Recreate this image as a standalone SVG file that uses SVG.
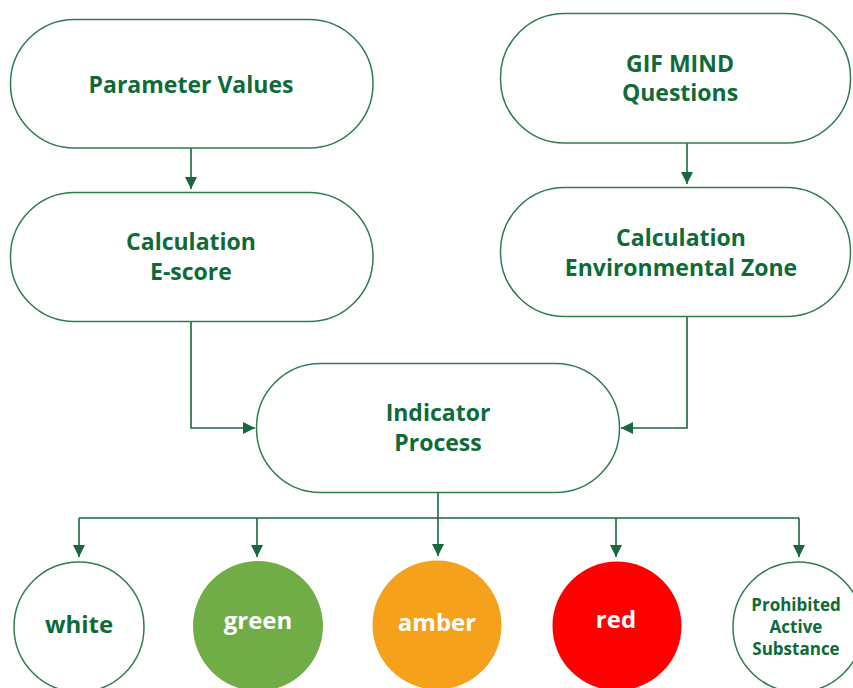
<svg xmlns="http://www.w3.org/2000/svg" width="853" height="688" viewBox="0 0 853 688">
  <defs>
    <marker id="arr" markerUnits="userSpaceOnUse" markerWidth="12" markerHeight="14" refX="12" refY="6" orient="auto">
      <path d="M0,0 L12,6 L0,12 Z" fill="#16693a"/>
    </marker>
    <style>
      .box { fill: #ffffff; stroke: #2e7d4e; stroke-width: 1.5; }
      .conn { fill: none; stroke: #16693a; stroke-width: 1.6; }
      .t { font-family: "Open Sans", "Noto Sans", "Liberation Sans", sans-serif; font-weight: 700; font-size: 23px; fill: #0e6b38; text-anchor: middle; }
      .tc { font-size: 24px; }
      .tw { fill: #ffffff; }
      .ts { font-size: 17px; }
    </style>
  </defs>
  <rect width="853" height="688" fill="#ffffff"/>

  <g id="connectors">
    <path class="conn" d="M191,148 L191,189" marker-end="url(#arr)"/>
    <path class="conn" d="M687,143 L687,184" marker-end="url(#arr)"/>
    <path class="conn" d="M191,322 L191,428 L255,428" marker-end="url(#arr)"/>
    <path class="conn" d="M687,316 L687,428 L621,428" marker-end="url(#arr)"/>
    <path class="conn" d="M438,493 L438,556" marker-end="url(#arr)"/>
    <path class="conn" d="M79,518 L799,518"/>
    <path class="conn" d="M79,518 L79,557" marker-end="url(#arr)"/>
    <path class="conn" d="M257,518 L257,557" marker-end="url(#arr)"/>
    <path class="conn" d="M616,518 L616,557" marker-end="url(#arr)"/>
    <path class="conn" d="M799,518 L799,557" marker-end="url(#arr)"/>
  </g>

  <g id="parameter-values">
    <rect class="box" x="10.5" y="19.5" width="362.5" height="128.5" rx="64" ry="64"/>
    <text class="t" x="191" y="93">Parameter Values</text>
  </g>
  <g id="calc-escore">
    <rect class="box" x="10.5" y="192.5" width="362.5" height="129" rx="64" ry="64"/>
    <text class="t" x="191" y="250">Calculation</text>
    <text class="t" x="191" y="280">E-score</text>
  </g>
  <g id="gif-mind">
    <rect class="box" x="500.5" y="13.5" width="350" height="129.5" rx="64" ry="64"/>
    <text class="t" x="680" y="72">GIF MIND</text>
    <text class="t" x="680" y="101">Questions</text>
  </g>
  <g id="calc-env-zone">
    <rect class="box" x="500.5" y="187.5" width="350" height="129" rx="64" ry="64"/>
    <text class="t" x="681" y="246">Calculation</text>
    <text class="t" x="681" y="276">Environmental Zone</text>
  </g>
  <g id="indicator-process">
    <rect class="box" x="256.5" y="363.5" width="363" height="129" rx="64" ry="64"/>
    <text class="t" x="438" y="421">Indicator</text>
    <text class="t" x="438" y="451">Process</text>
  </g>

  <g id="white">
    <circle class="box" cx="79" cy="627" r="65"/>
    <text class="t tc" x="79" y="633">white</text>
  </g>
  <g id="green">
    <circle cx="258" cy="626" r="65" fill="#70ad47"/>
    <text class="t tc tw" x="258" y="629">green</text>
  </g>
  <g id="amber">
    <circle cx="437" cy="625" r="64.5" fill="#f5a11c"/>
    <text class="t tc tw" x="437" y="631">amber</text>
  </g>
  <g id="red">
    <circle cx="617" cy="626" r="64.5" fill="#ff0000"/>
    <text class="t tc tw" x="616" y="628">red</text>
  </g>
  <g id="prohibited">
    <circle class="box" cx="798" cy="627" r="65"/>
    <text class="t ts" x="796" y="611">Prohibited</text>
    <text class="t ts" x="796" y="633">Active</text>
    <text class="t ts" x="796" y="655">Substance</text>
  </g>
</svg>
